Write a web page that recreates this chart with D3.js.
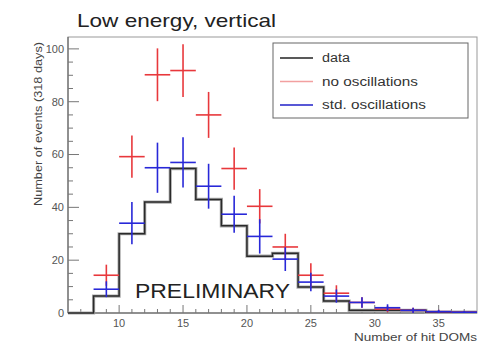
<!DOCTYPE html>
<html>
<head>
<meta charset="utf-8">
<script src="https://cdn.jsdelivr.net/npm/d3@7"></script>
<style>
  body { margin: 0; background: #fff; }
  svg { display: block; font-family: "Liberation Sans", Arial, sans-serif; }
</style>
</head>
<body>
<svg id="chart"></svg>
<script>
const binCenters = [9, 11, 13, 15, 17, 19, 21, 23, 25, 27, 29, 31, 33, 35, 37];
// black data histogram, bin edges every 2 from 6 to 38
const dataEdges = [6, 8, 10, 12, 14, 16, 18, 20, 22, 24, 26, 28, 30, 32, 34, 36, 38];
const dataCounts = [0, 6.4, 30, 42, 54.7, 43, 33, 21.5, 22.6, 9.8, 4.5, 1, 1, 1, 0.3, 0.3];
const noOsc = [14.3, 59.2, 90.2, 91.8, 75, 54.7, 40.4, 25, 14.3, 7.5, 4, 1.5, 1, 0.5, 0.3];
const noOscErr = [4, 8, 10, 10, 8.7, 8, 6.5, 5, 4.5, 3, 2, 1.2, 1, 0.7, 0.5];
const stdOsc = [9, 34, 55, 57, 48, 37.4, 29, 20.4, 11.7, 6.4, 4, 2, 1, 0.5, 0.3];
const stdOscErr = [3, 8, 9.5, 9.5, 8.5, 7, 6.5, 4.5, 3.5, 2.5, 2, 1.3, 1, 0.7, 0.5];
const xTicks = [10, 15, 20, 25, 30, 35];
const yTicks = [0, 20, 40, 60, 80, 100];
const legendItems = [
  { label: "data", color: "#222", len: 28 },
  { label: "no oscillations", color: "#f2a0a0", len: 96 },
  { label: "std. oscillations", color: "#2020c8", len: 104 }
];

const width = 504, height = 343;
const svg = d3.select("#chart").attr("width", width).attr("height", height);

const x = d3.scaleLinear().domain([6, 38]).range([68, 477]);
const y = d3.scaleLinear().domain([0, 104.5]).range([313, 37]);

// frame
svg.append("rect")
  .attr("x", x.range()[0]).attr("y", y.range()[1])
  .attr("width", x.range()[1] - x.range()[0])
  .attr("height", y.range()[0] - y.range()[1])
  .attr("fill", "none").attr("stroke", "#999").attr("stroke-width", 1);

// x axis
const xAxis = svg.append("g").attr("transform", "translate(0," + y.range()[0] + ")");
xAxis.append("line").attr("x1", x.range()[0]).attr("x2", x.range()[1])
  .attr("stroke", "#555");
xAxis.selectAll(".minor").data(d3.range(7, 38)).enter().append("line")
  .attr("x1", d => x(d)).attr("x2", d => x(d))
  .attr("y1", 0).attr("y2", d => xTicks.includes(d) ? -8 : -4)
  .attr("stroke", "#777");
xAxis.selectAll("text").data(xTicks).enter().append("text")
  .attr("x", d => x(d)).attr("y", 14)
  .attr("text-anchor", "middle").attr("font-size", 11).attr("fill", "#555")
  .text(d => d);
svg.append("text").attr("x", x.range()[1]).attr("y", 341)
  .attr("text-anchor", "end").attr("font-size", 11.5).attr("fill", "#444")
  .attr("textLength", 123).attr("lengthAdjust", "spacingAndGlyphs")
  .text("Number of hit DOMs");

// y axis
const yAxis = svg.append("g").attr("transform", "translate(" + x.range()[0] + ",0)");
yAxis.append("line").attr("y1", y.range()[0]).attr("y2", y.range()[1])
  .attr("stroke", "#555");
yAxis.selectAll(".minor").data(d3.range(0, 105, 5)).enter().append("line")
  .attr("y1", d => y(d)).attr("y2", d => y(d))
  .attr("x1", 0).attr("x2", d => d % 20 === 0 ? 11 : 5)
  .attr("stroke", "#777");
yAxis.selectAll("text").data(yTicks).enter().append("text")
  .attr("x", -4).attr("y", d => y(d)).attr("dy", "0.35em")
  .attr("text-anchor", "end").attr("font-size", 11).attr("fill", "#555")
  .text(d => d);
svg.append("text")
  .attr("transform", "translate(42,42) rotate(-90)")
  .attr("text-anchor", "end").attr("font-size", 11).attr("fill", "#444")
  .attr("textLength", 164).attr("lengthAdjust", "spacingAndGlyphs")
  .text("Number of events (318 days)");

// data histogram
const stepPts = [];
dataCounts.forEach((c, i) => {
  stepPts.push([dataEdges[i], c]);
  stepPts.push([dataEdges[i + 1], c]);
});
const line = d3.line().x(d => x(d[0])).y(d => y(d[1]));
svg.append("path").datum(stepPts)
  .attr("d", line).attr("fill", "none")
  .attr("stroke", "#aaa").attr("stroke-width", 3.2);
svg.append("path").datum(stepPts)
  .attr("d", line).attr("fill", "none")
  .attr("stroke", "#2a2a2a").attr("stroke-width", 1.5);

// error crosses
function crosses(vals, errs, color) {
  const g = svg.append("g").attr("stroke", color).attr("stroke-width", 1.6);
  g.selectAll(".h").data(binCenters).enter().append("line")
    .attr("x1", d => x(d - 1)).attr("x2", d => x(d + 1))
    .attr("y1", (d, i) => y(vals[i])).attr("y2", (d, i) => y(vals[i]));
  g.selectAll(".v").data(binCenters).enter().append("line")
    .attr("x1", d => x(d)).attr("x2", d => x(d))
    .attr("y1", (d, i) => y(vals[i] + errs[i]))
    .attr("y2", (d, i) => y(Math.max(0, vals[i] - errs[i])));
}
crosses(noOsc, noOscErr, "#e8383c");
crosses(stdOsc, stdOscErr, "#2828d8");

// PRELIMINARY
svg.append("text").attr("x", 135).attr("y", 298)
  .attr("font-size", 21).attr("fill", "#222")
  .attr("textLength", 155).attr("lengthAdjust", "spacingAndGlyphs")
  .text("PRELIMINARY");

// title
svg.append("text").attr("x", 77).attr("y", 27)
  .attr("font-size", 19).attr("fill", "#222")
  .attr("textLength", 199).attr("lengthAdjust", "spacingAndGlyphs")
  .text("Low energy, vertical");

// legend
const lg = svg.append("g");
lg.append("rect").attr("x", 273).attr("y", 43).attr("width", 195).attr("height", 75)
  .attr("fill", "#fff").attr("stroke", "#666").attr("stroke-width", 1);
legendItems.forEach((d, i) => {
  const ly = 58 + i * 23.5;
  lg.append("line").attr("x1", 280).attr("x2", 313).attr("y1", ly).attr("y2", ly)
    .attr("stroke", d.color).attr("stroke-width", 1.6);
  lg.append("text").attr("x", 322).attr("y", ly).attr("dy", "0.35em")
    .attr("font-size", 12.5).attr("fill", "#333")
    .attr("textLength", d.len).attr("lengthAdjust", "spacingAndGlyphs")
    .text(d.label);
});
</script>
</body>
</html>
